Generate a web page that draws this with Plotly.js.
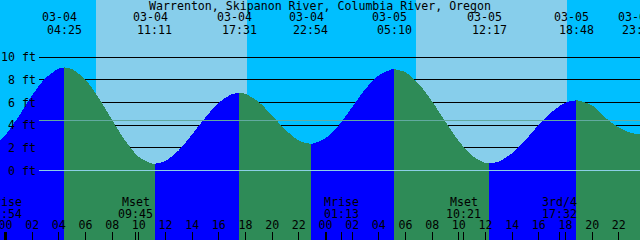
<!DOCTYPE html>
<html><head><meta charset="utf-8">
<script src="https://cdn.plot.ly/plotly-3.0.1.min.js"></script>
<style>
html,body{margin:0;padding:0;background:#00BFFF;overflow:hidden}
#chart{width:640px;height:240px}
#chart svg path{shape-rendering:crispEdges}
</style>
</head><body><div id="chart"></div>
<script>
// ---------- data (hours counted from 03-04 00:00) ----------
const stationTitle = "Warrenton, Skipanon River, Columbia River, Oregon";

// labelled high / low tides
const extremeHours = [4.417, 11.183, 17.517, 22.9, 29.167, 36.283, 42.8, 47.583];
const extremeDates = ["03-04", "03-04", "03-04", "03-04", "03-05", "03-05", "03-05", "03-05"];
const extremeTimes = ["04:25", "11:11", "17:31", "22:54", "05:10", "12:17", "18:48", "23:35"];

// tide height readings (ft) taken along the curve
const tideHours = [-1.5, -0.5, 0, 1, 2, 3, 4, 4.417, 5, 6, 7, 8, 9, 10, 11, 11.183,
  12, 13, 14, 15, 16, 17, 17.517, 18, 19, 20, 21, 22, 22.9, 23, 24, 25, 26, 27, 28, 29, 29.167,
  30, 31, 32, 33, 34, 35, 36, 36.283, 37, 38, 39, 40, 41, 42, 42.8, 43, 44, 45, 46, 47, 47.583];
const tideFeet = [2.2, 2.55, 3.15, 4.8, 6.65, 8.15, 9.0, 9.1, 8.95, 8.0, 6.4, 4.45, 2.6, 1.2, 0.62, 0.6,
  0.85, 1.8, 3.2, 4.7, 6.0, 6.75, 6.85, 6.76, 6.05, 4.85, 3.6, 2.65, 2.35, 2.36, 2.85, 4.0, 5.6, 7.2, 8.4, 8.94, 8.95,
  8.67, 7.65, 6.1, 4.3, 2.6, 1.3, 0.68, 0.65, 0.8, 1.55, 2.7, 4.05, 5.2, 6.0, 6.2, 6.18, 5.75, 4.65, 3.8, 3.3, 3.2];

// daylight
const sunriseHours = [6.783, 30.783];
const sunsetHours = [18.083, 42.083];

// moon events
const moonHours = [-0.1, 9.75, 25.217, 34.35, 41.533];
const moonNames = ["Mrise", "Mset", "Mrise", "Mset", "3rd/4"];
const moonTimes = ["23:54", "09:45", "01:13", "10:21", "17:32"];

// axis ticks
const hourTicks = [0, 2, 4, 6, 8, 10, 12, 14, 16, 18, 20, 22, 24, 26, 28, 30, 32, 34, 36, 38, 40, 42, 44, 46];
const hourLabels = ["00", "02", "04", "06", "08", "10", "12", "14", "16", "18", "20", "22",
  "00", "02", "04", "06", "08", "10", "12", "14", "16", "18", "20", "22"];
const midnightHours = [0, 24];
const depthFeet = [0, 2, 4, 6, 8, 10];
const depthLabels = ["0 ft", "2 ft", "4 ft", "6 ft", "8 ft", "10 ft"];
const meanLevelFeet = 4.4;

// ---------- styling ----------
const FONT = {family: "'DejaVu Sans Mono', 'Liberation Mono', monospace", size: 11.6, color: '#000'};
const X_RANGE = [-0.4125, 47.5875];
const Y_RANGE = [-6.12, 15.05];
const H = 240, W = 640;
const py = p => 1 - p / H;
const NIGHT = '#00BFFF', DAY = '#87CEEB', FLOOD = '#0000FF', EBB = '#2E8B57';

// ---------- traces: one filled segment per rise / fall ----------
const bounds = [tideHours[0]].concat(extremeHours);
const traces = [];
for (let i = 0; i < bounds.length - 1; i++) {
  const a = bounds[i], b = bounds[i + 1];
  const xs = [], ys = [];
  tideHours.forEach((t, k) => { if (t >= a - 1e-9 && t <= b + 1e-9) { xs.push(t); ys.push(tideFeet[k]); } });
  const rising = ys[ys.length - 1] > ys[0];
  traces.push({x: [a, b], y: [Y_RANGE[0] - 1, Y_RANGE[0] - 1], mode: 'lines', line: {width: 0},
    hoverinfo: 'skip', showlegend: false});
  traces.push({x: xs, y: ys, mode: 'lines', line: {width: 0, shape: 'spline', smoothing: 0.8},
    fill: 'tonexty', fillcolor: rising ? FLOOD : EBB, hoverinfo: 'skip', showlegend: false});
}

// ---------- shapes ----------
const shapes = [];
sunriseHours.forEach((s, i) => shapes.push({type: 'rect', xref: 'x', yref: 'paper', x0: s, x1: sunsetHours[i],
  y0: 0, y1: 1, fillcolor: DAY, line: {width: 0}, layer: 'below'}));
depthFeet.forEach(d => shapes.push({type: 'line', xref: 'paper', yref: 'y', x0: 39 / W, x1: 1, y0: d, y1: d,
  line: {color: '#000', width: 1}, layer: 'below'}));
shapes.push({type: 'line', xref: 'paper', yref: 'y', x0: 39 / W, x1: 1, y0: meanLevelFeet, y1: meanLevelFeet,
  line: {color: '#62AAA0', width: 1}, layer: 'above'});
shapes.push({type: 'line', xref: 'paper', yref: 'y', x0: 39 / W, x1: 1, y0: 0, y1: 0,
  line: {color: '#8CCFE6', width: 1}, layer: 'above'});
midnightHours.forEach(m => shapes.push({type: 'line', xref: 'x', yref: 'paper', x0: m, x1: m, y0: 0, y1: 8 / H,
  line: {color: '#000', width: 2}, layer: 'above'}));
moonHours.forEach(m => shapes.push({type: 'line', xref: 'x', yref: 'paper', x0: m, x1: m, y0: 0, y1: 8 / H,
  line: {color: '#000', width: 1}, layer: 'above'}));

// ---------- text ----------
const ann = [];
ann.push({text: stationTitle, xref: 'paper', yref: 'paper', x: 0.5, y: py(5.8), xanchor: 'center', yanchor: 'middle',
  showarrow: false, font: FONT});
extremeHours.forEach((t, i) => {
  ann.push({text: extremeDates[i], xref: 'x', yref: 'paper', x: t, y: py(17.5), xshift: -4.5,
    xanchor: 'center', yanchor: 'middle', showarrow: false, font: FONT});
  ann.push({text: extremeTimes[i], xref: 'x', yref: 'paper', x: t, y: py(29.7),
    xanchor: 'center', yanchor: 'middle', showarrow: false, font: FONT});
});
moonHours.forEach((t, i) => {
  ann.push({text: moonNames[i], xref: 'x', yref: 'paper', x: t, y: py(201.7),
    xanchor: 'center', yanchor: 'middle', showarrow: false, font: FONT});
  ann.push({text: moonTimes[i], xref: 'x', yref: 'paper', x: t, y: py(213.5),
    xanchor: 'center', yanchor: 'middle', showarrow: false, font: FONT});
});
depthFeet.forEach((d, i) => ann.push({text: depthLabels[i], xref: 'paper', yref: 'y', x: 38 / W, y: d,
  xanchor: 'right', yanchor: 'middle', showarrow: false, font: FONT}));

const layout = {
  width: W, height: H, margin: {l: 0, r: 0, t: 0, b: 0, pad: 0},
  paper_bgcolor: NIGHT, plot_bgcolor: NIGHT, showlegend: false, hovermode: false,
  xaxis: {range: X_RANGE, showgrid: false, zeroline: false, showline: false, fixedrange: true,
    tickmode: 'array', tickvals: hourTicks, ticktext: hourLabels, ticks: 'inside', ticklen: 8,
    tickwidth: 1, tickcolor: '#000', ticklabelposition: 'inside', ticklabeloverflow: 'allow', tickfont: FONT},
  yaxis: {range: Y_RANGE, visible: false, fixedrange: true},
  shapes: shapes, annotations: ann
};
Plotly.newPlot('chart', traces, layout, {displayModeBar: false, staticPlot: true});
</script>
</body></html>
